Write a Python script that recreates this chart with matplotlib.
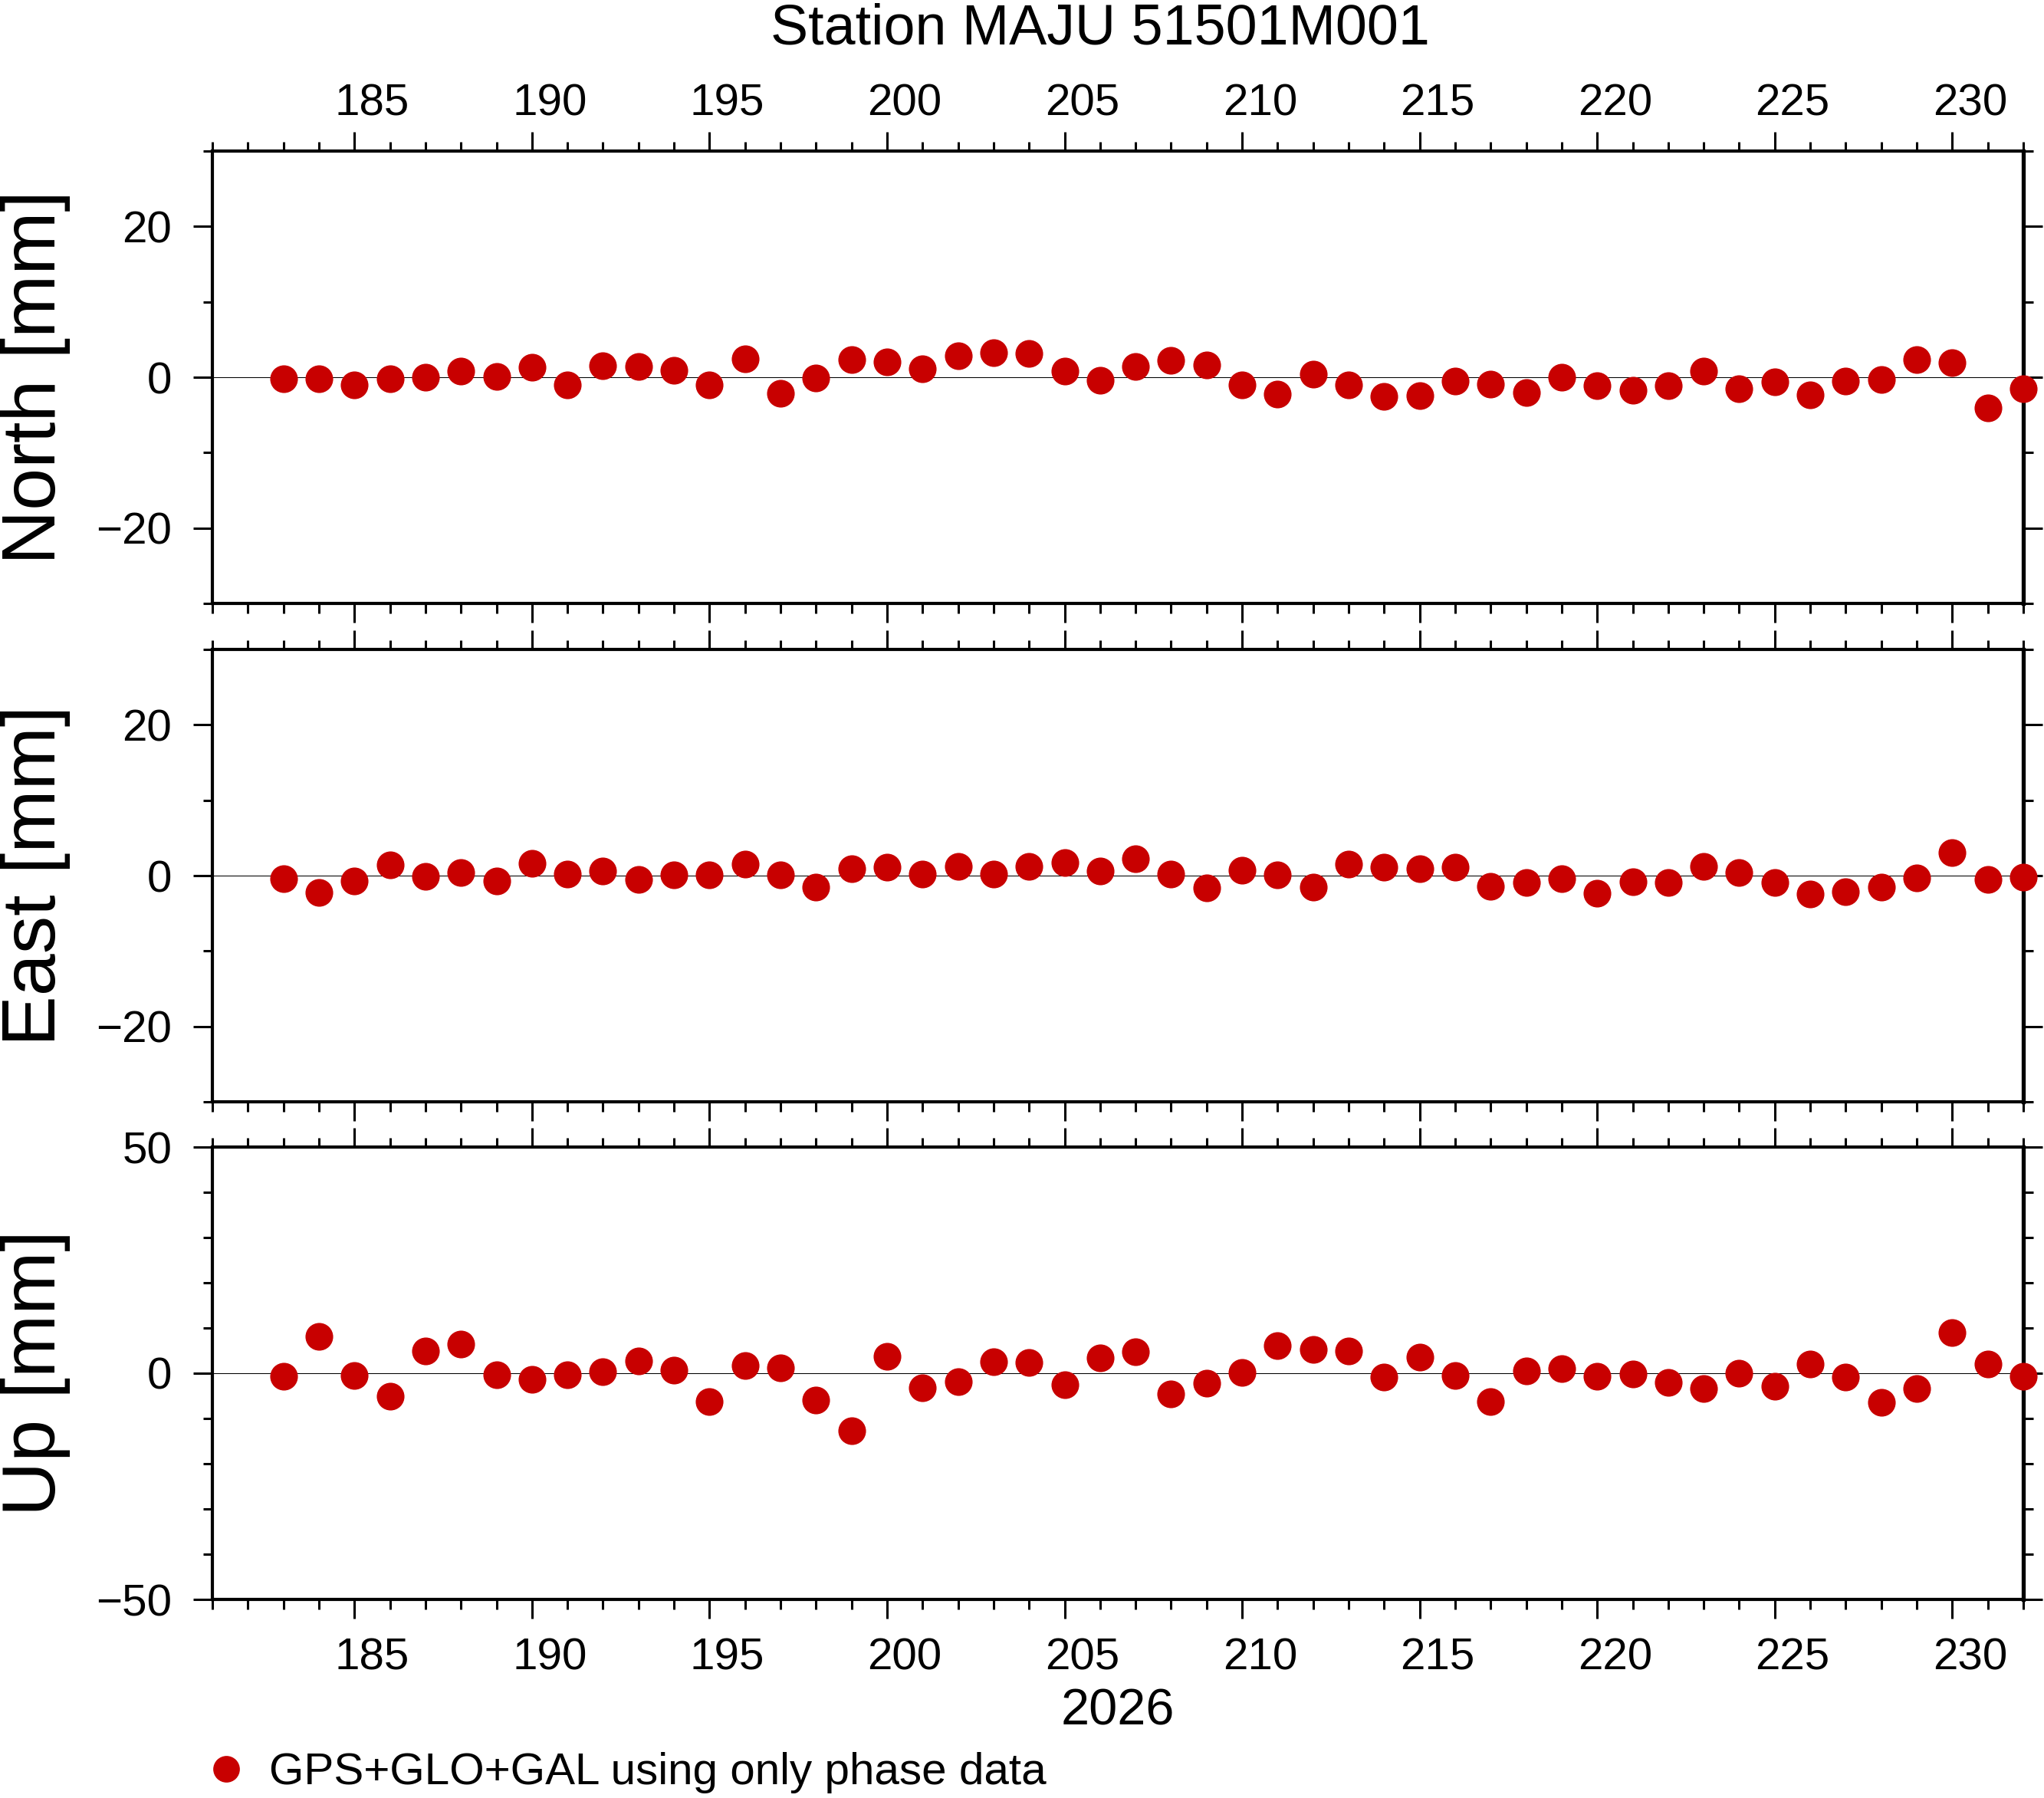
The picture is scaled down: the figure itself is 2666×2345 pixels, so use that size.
import numpy as np
import matplotlib
matplotlib.use('Agg')
import matplotlib.pyplot as plt
from matplotlib.ticker import MultipleLocator, NullLocator, FixedLocator
from matplotlib.lines import Line2D

plt.rcParams['font.family'] = ['Liberation Sans', 'DejaVu Sans']

days = [183, 184, 185, 186, 187, 188, 189, 190, 191, 192,
        193, 194, 195, 196, 197, 198, 199, 200, 201, 202,
        203, 204, 205, 206, 207, 208, 209, 210, 211, 212,
        213, 214, 215, 216, 217, 218, 219, 220, 221, 222,
        223, 224, 225, 226, 227, 228, 229, 230, 231, 232]

day_ticks = [185, 190, 195, 200, 205, 210, 215, 220, 225, 230]

north = [-0.2, -0.2, -1.0, -0.2, 0.0, 0.8, 0.1, 1.3, -1.0, 1.5,
         1.4, 0.9, -1.0, 2.4, -2.1, -0.1, 2.3, 2.0, 1.1, 2.8,
         3.3, 3.2, 0.8, -0.4, 1.4, 2.2, 1.6, -1.0, -2.2, 0.4,
         -1.0, -2.5, -2.4, -0.5, -0.9, -2.0, 0.0, -1.1, -1.7, -1.1,
         0.8, -1.5, -0.6, -2.3, -0.5, -0.3, 2.3, 1.9, -4.1, -1.5]

east = [-0.4, -2.2, -0.7, 1.4, -0.1, 0.4, -0.7, 1.6, 0.2, 0.6,
        -0.5, 0.1, 0.1, 1.5, 0.1, -1.5, 0.9, 1.1, 0.2, 1.2,
        0.2, 1.2, 1.7, 0.6, 2.2, 0.2, -1.6, 0.7, 0.1, -1.5,
        1.5, 1.1, 0.9, 1.1, -1.4, -0.9, -0.4, -2.3, -0.8, -0.9,
        1.2, 0.4, -0.9, -2.4, -2.1, -1.5, -0.3, 3.1, -0.5, -0.2]

up = [-0.7, 8.1, -0.5, -5.1, 4.9, 6.4, -0.3, -1.4, -0.3, 0.3,
      2.7, 0.7, -6.3, 1.7, 1.2, -5.9, -12.7, 3.7, -3.2, -1.9,
      2.5, 2.4, -2.5, 3.4, 4.7, -4.6, -2.2, 0.2, 6.1, 5.2,
      4.9, -0.8, 3.6, -0.5, -6.3, 0.5, 1.0, -0.7, -0.2, -2.0,
      -3.4, 0.0, -2.9, 2.0, -0.8, -6.4, -3.4, 9.0, 2.0, -0.7]

labels = ['North [mm]', 'East [mm]', 'Up [mm]']
ylims = [(-30, 30), (-30, 30), (-50, 50)]
ymajor = [20, 20, 50]
red = '#c80000'

W, H = 2666, 2345
fig = plt.figure(figsize=(W / 100, H / 100), dpi=100)

left = 277 / W
width = (2639 - 277) / W
tops = [197, 847, 1496]
ph = 590

axes = []
for i, (vals, lab) in enumerate(zip([north, east, up], labels)):
    ax = fig.add_axes([left, 1 - (tops[i] + ph) / H, width, ph / H])
    ax.axhline(0, color='black', lw=0.75, zorder=1)
    ax.plot(days, vals, 'o', color=red, ms=26, mec='none', clip_on=False, zorder=3)
    ax.set_xlim(181, 232)
    ax.set_ylim(*ylims[i])
    ax.xaxis.set_major_locator(FixedLocator(day_ticks))
    ax.xaxis.set_minor_locator(MultipleLocator(1))
    ax.yaxis.set_major_locator(MultipleLocator(ymajor[i]))
    ax.yaxis.set_minor_locator(MultipleLocator(10))
    for s in ax.spines.values():
        s.set_linewidth(3)
    ax.spines['right'].set_linewidth(3.8)
    ax.tick_params(which='both', direction='out', top=True, bottom=True,
                   left=True, right=True, width=2.2, labelsize=42,
                   labelbottom=False, labeltop=False)
    ax.tick_params(which='major', length=18)
    ax.tick_params(which='minor', length=9)
    ax.tick_params(axis='y', which='major', pad=20)
    fig.text(0.0176, 1 - (tops[i] + ph / 2) / H, lab, rotation=90,
             ha='center', va='center', fontsize=71)
    axes.append(ax)


# day labels sit in the middle of the day interval (GMT style)
def day_labels(ax, where, pad):
    sec = ax.secondary_xaxis(where, functions=(lambda x: x - 0.5, lambda x: x + 0.5))
    sec.xaxis.set_major_locator(FixedLocator(day_ticks))
    sec.xaxis.set_minor_locator(NullLocator())
    sec.tick_params(length=0, labelsize=42, pad=pad)
    sec.spines[where].set_visible(False)
    return sec


day_labels(axes[0], 'top', 24.5)
day_labels(axes[2], 'bottom', 36)

fig.text(1435 / W, 1 - 57 / H, 'Station MAJU 51501M001', ha='center',
         va='baseline', fontsize=53)
fig.text(1458 / W, 1 - 2250 / H, '2026', ha='center', va='baseline', fontsize=48)

handle = Line2D([], [], marker='o', ls='none', color=red, ms=25, mec='none')
fig.legend(handles=[handle], labels=['GPS+GLO+GAL using only phase data'],
           loc='center left', bbox_to_anchor=(266 / W, 1 - 2312 / H),
           frameon=False, fontsize=42, handlelength=1.0, handletextpad=0.45,
           borderpad=0, borderaxespad=0)

fig.savefig('out.png', dpi=100)
